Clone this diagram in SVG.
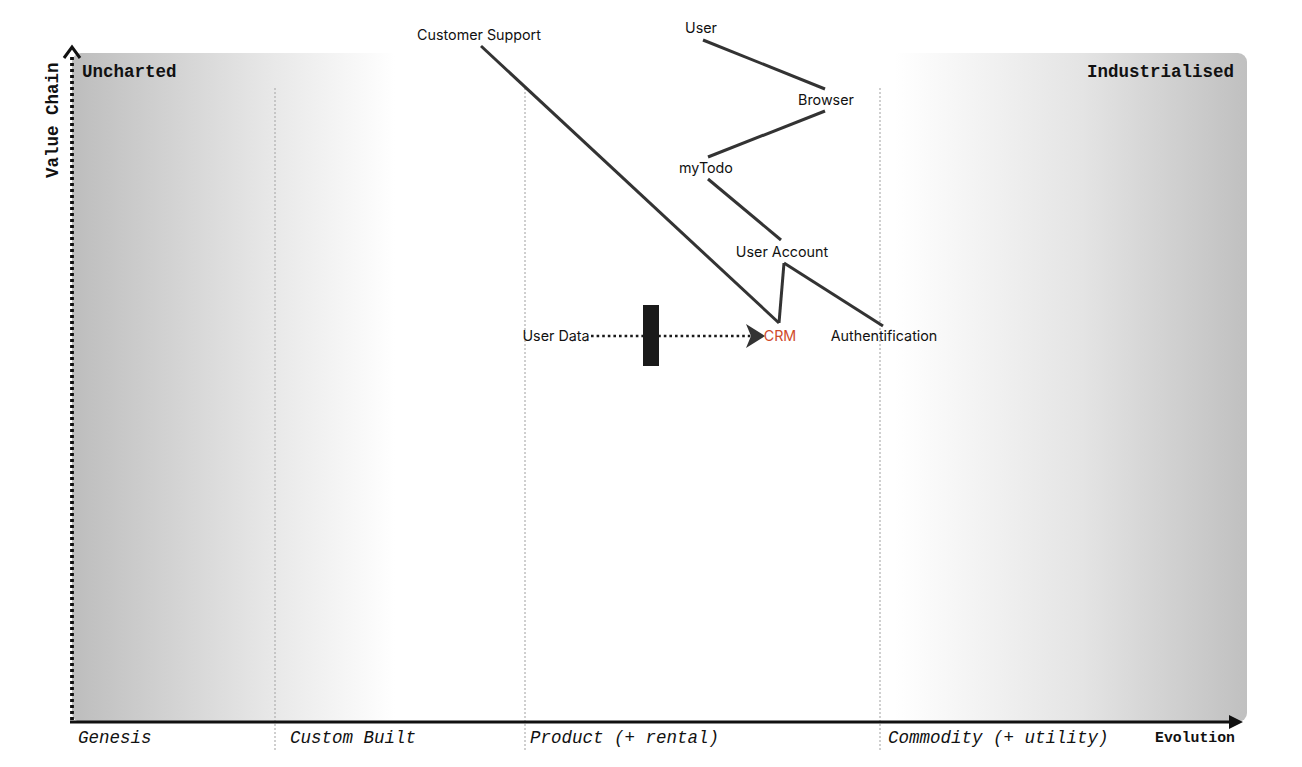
<svg xmlns="http://www.w3.org/2000/svg" width="1302" height="767" viewBox="0 0 1302 767">
<defs>
<linearGradient id="bg" x1="72" y1="0" x2="1247" y2="0" gradientUnits="userSpaceOnUse">
<stop offset="0" stop-color="#bdbdbd"/>
<stop offset="0.17" stop-color="#e8e8e8"/>
<stop offset="0.275" stop-color="#ffffff"/>
<stop offset="0.70" stop-color="#ffffff"/>
<stop offset="0.86" stop-color="#e4e4e4"/>
<stop offset="1" stop-color="#c0c0c0"/>
</linearGradient>
</defs>
<style>
.lbl{font-family:"Liberation Mono","Courier New",monospace;font-size:17.5px;fill:#111}
.b{font-weight:bold}
.i{font-style:italic}
.stage{fill:none;stroke:#b0b0b0;stroke-width:1.2;stroke-dasharray:2 2}
.link{stroke:#333;stroke-width:3;fill:none}
.node{font-family:"Inter","Noto Sans","Liberation Sans",sans-serif;font-size:14.3px;fill:#111;text-anchor:middle}
</style>
<rect width="1302" height="767" fill="#ffffff"/>
<rect x="72" y="53" width="1175" height="669" rx="9" fill="url(#bg)"/>
<g id="stages">
<line class="stage" x1="275" y1="88" x2="275" y2="752"/>
<line class="stage" x1="525" y1="88" x2="525" y2="752"/>
<line class="stage" x1="880" y1="88" x2="880" y2="752"/>
</g>
<g id="axes">
<line x1="72" y1="720" x2="72" y2="55" stroke="#111" stroke-width="3.8" stroke-dasharray="3 3"/>
<path d="M64,58 L72,47 L80,58" fill="none" stroke="#111" stroke-width="3"/>
<line x1="70" y1="722" x2="1234" y2="722" stroke="#111" stroke-width="3"/>
<path d="M1229,715 L1243,722 L1229,729 Z" fill="#111"/>
<text class="lbl b" x="82" y="77">Uncharted</text>
<text class="lbl b" x="1234" y="77" text-anchor="end">Industrialised</text>
<text class="lbl b" transform="translate(58,178) rotate(-90)">Value Chain</text>
<text class="lbl i" x="78" y="743">Genesis</text>
<text class="lbl i" x="290" y="743">Custom Built</text>
<text class="lbl i" x="530" y="743">Product (+ rental)</text>
<text class="lbl i" x="888" y="743">Commodity (+ utility)</text>
<text class="lbl b" x="1235" y="742" text-anchor="end" style="font-size:14.8px">Evolution</text>
</g>
<g id="connectors">
<line class="link" x1="481" y1="46" x2="779" y2="323"/>
<line class="link" x1="703" y1="40" x2="825" y2="89"/>
<line class="link" x1="825" y1="111" x2="708" y2="157"/>
<line class="link" x1="708" y1="179" x2="781" y2="240"/>
<line class="link" x1="784" y1="263" x2="779" y2="323"/>
<line class="link" x1="784" y1="263" x2="883" y2="326"/>
<line x1="591" y1="336" x2="752" y2="336" stroke="#1a1a1a" stroke-width="2.6" stroke-dasharray="2.6 3"/>
<path d="M746,324 L765,336 L746,348 L751,336 Z" fill="#333"/>
</g>
<g id="inertia"><rect x="643" y="305" width="16" height="61" fill="#1a1a1a"/></g>
<g id="customer-support"><text class="node" x="479" y="40">Customer Support</text></g>
<g id="user"><text class="node" x="701" y="33">User</text></g>
<g id="browser"><text class="node" x="826" y="105">Browser</text></g>
<g id="mytodo"><text class="node" x="706" y="173">myTodo</text></g>
<g id="user-account"><text class="node" x="782" y="257">User Account</text></g>
<g id="crm"><text class="node" x="780" y="341" style="fill:#cf4a2a">CRM</text></g>
<g id="authentification"><text class="node" x="884" y="341">Authentification</text></g>
<g id="user-data"><text class="node" x="556" y="341">User Data</text></g>
</svg>
